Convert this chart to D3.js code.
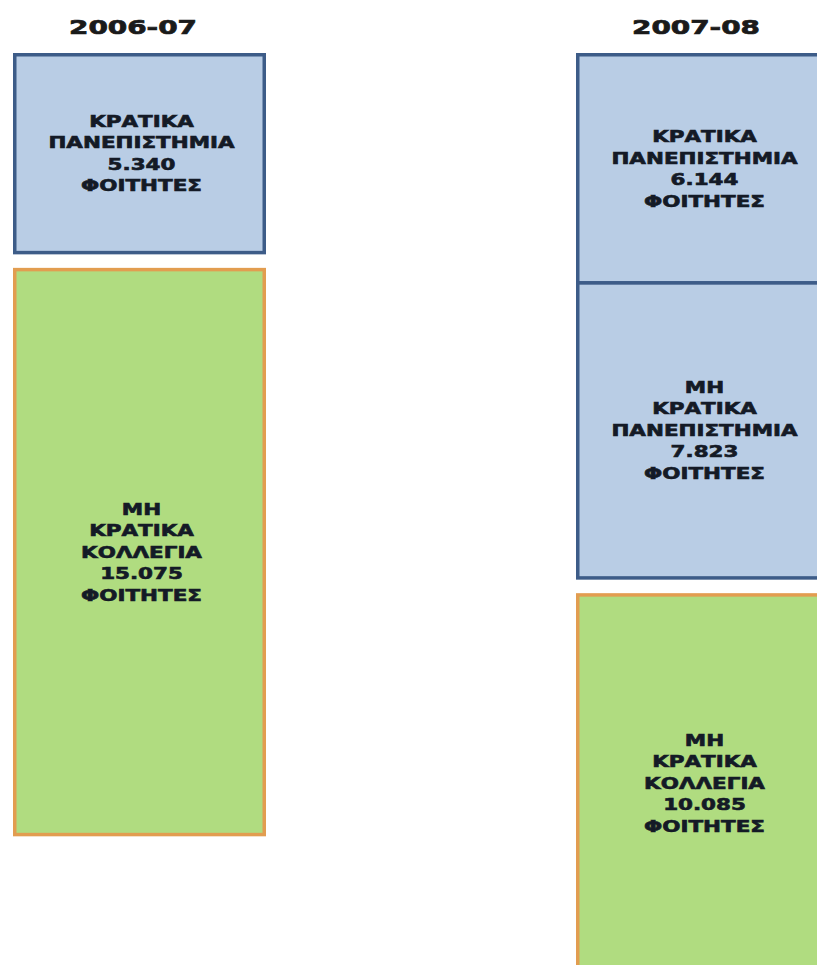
<!DOCTYPE html>
<html>
<head>
<meta charset="utf-8">
<script src="https://cdn.jsdelivr.net/npm/d3@7"></script>
<style>
  html, body { margin: 0; padding: 0; background: #ffffff; }
  svg { display: block; }
</style>
</head>
<body>
<div id="chart"></div>
<script>
// ---- data ----
const years = ["2006-07", "2007-08"];
const segYear = ["2006-07", "2006-07", "2007-08", "2007-08", "2007-08"];
const segLabel = [
  ["ΚΡΑΤΙΚΑ", "ΠΑΝΕΠΙΣΤΗΜΙΑ"],
  ["ΜΗ", "ΚΡΑΤΙΚΑ", "ΚΟΛΛΕΓΙΑ"],
  ["ΚΡΑΤΙΚΑ", "ΠΑΝΕΠΙΣΤΗΜΙΑ"],
  ["ΜΗ", "ΚΡΑΤΙΚΑ", "ΠΑΝΕΠΙΣΤΗΜΙΑ"],
  ["ΜΗ", "ΚΡΑΤΙΚΑ", "ΚΟΛΛΕΓΙΑ"]
];
const segStudents = [5340, 15075, 6144, 7823, 10085];
const segKind = ["university", "college", "university", "university", "college"];
const unitLabel = "ΦΟΙΤΗΤΕΣ";

// ---- layout / style ----
const W = 817, H = 965;
const top0 = 53;
const groupGap = 13.5;
const kinds = ["university", "college"];
const fillScale = d3.scaleOrdinal().domain(kinds).range(["#b9cde5", "#b0dc80"]);
const strokeScale = d3.scaleOrdinal().domain(kinds).range(["#3d5c88", "#e29d50"]);
const strokeW = 3.5;
const sx = 1.43;

const x = d3.scaleBand().domain(years).range([13, 829]).paddingInner(310 / 563).paddingOuter(0);
const h = d3.scaleLinear().domain([0, 24000]).range([0, 905]);

const grLocale = d3.formatLocale({decimal: ",", thousands: ".", grouping: [3], currency: ["", "€"]});
const fmt = grLocale.format(",d");

// build segments with stacked positions
const segs = segStudents.map((v, i) => ({
  year: segYear[i], value: v, kind: segKind[i],
  lines: segLabel[i].concat([fmt(v), unitLabel])
}));
years.forEach(y => {
  let cur = top0, prevKind = null;
  segs.filter(s => s.year === y).forEach(s => {
    let overlap = 0;
    if (prevKind !== null && prevKind !== s.kind) cur += groupGap;
    if (prevKind !== null && prevKind === s.kind) overlap = strokeW;
    s.y0 = cur - overlap;
    s.hgt = h(s.value) + overlap;
    cur += h(s.value);
    prevKind = s.kind;
  });
});

const svg = d3.select("#chart").append("svg").attr("width", W).attr("height", H);

// titles
svg.selectAll("text.title").data(years).join("text")
  .attr("class", "title")
  .attr("transform", d => `translate(${x(d) + 120},34) scale(${sx},1)`)
  .attr("text-anchor", "middle")
  .attr("font-family", "DejaVu Sans, Verdana, sans-serif")
  .attr("font-weight", "bold")
  .attr("font-size", 19.5)
  .attr("fill", "#1a1a1a")
  .attr("stroke", "#1a1a1a")
  .attr("stroke-width", 0.7)
  .text(d => d);

// boxes
const g = svg.selectAll("g.seg").data(segs).join("g").attr("class", "seg");
g.append("rect")
  .attr("x", d => x(d.year) + strokeW / 2)
  .attr("y", d => d.y0 + strokeW / 2)
  .attr("width", x.bandwidth() - strokeW)
  .attr("height", d => d.hgt - strokeW)
  .attr("fill", d => fillScale(d.kind))
  .attr("stroke", d => strokeScale(d.kind))
  .attr("stroke-width", strokeW);

// labels
const pitch = 21.5, fs = 15;
g.each(function(d) {
  const cx = x(d.year) + x.bandwidth() / 2 + 2;
  const cy = d.y0 + d.hgt / 2;
  const n = d.lines.length;
  d3.select(this).selectAll("text").data(d.lines).join("text")
    .attr("transform", (t, i) => `translate(${cx},${cy + (i - (n - 1) / 2) * pitch + fs * 0.365}) scale(${sx},1)`)
    .attr("text-anchor", "middle")
    .attr("font-family", "DejaVu Sans, Verdana, sans-serif")
    .attr("font-weight", "bold")
    .attr("font-size", fs)
    .attr("fill", "#141a26")
    .attr("stroke", "#141a26")
    .attr("stroke-width", 0.6)
    .text(t => t);
});
</script>
</body>
</html>
